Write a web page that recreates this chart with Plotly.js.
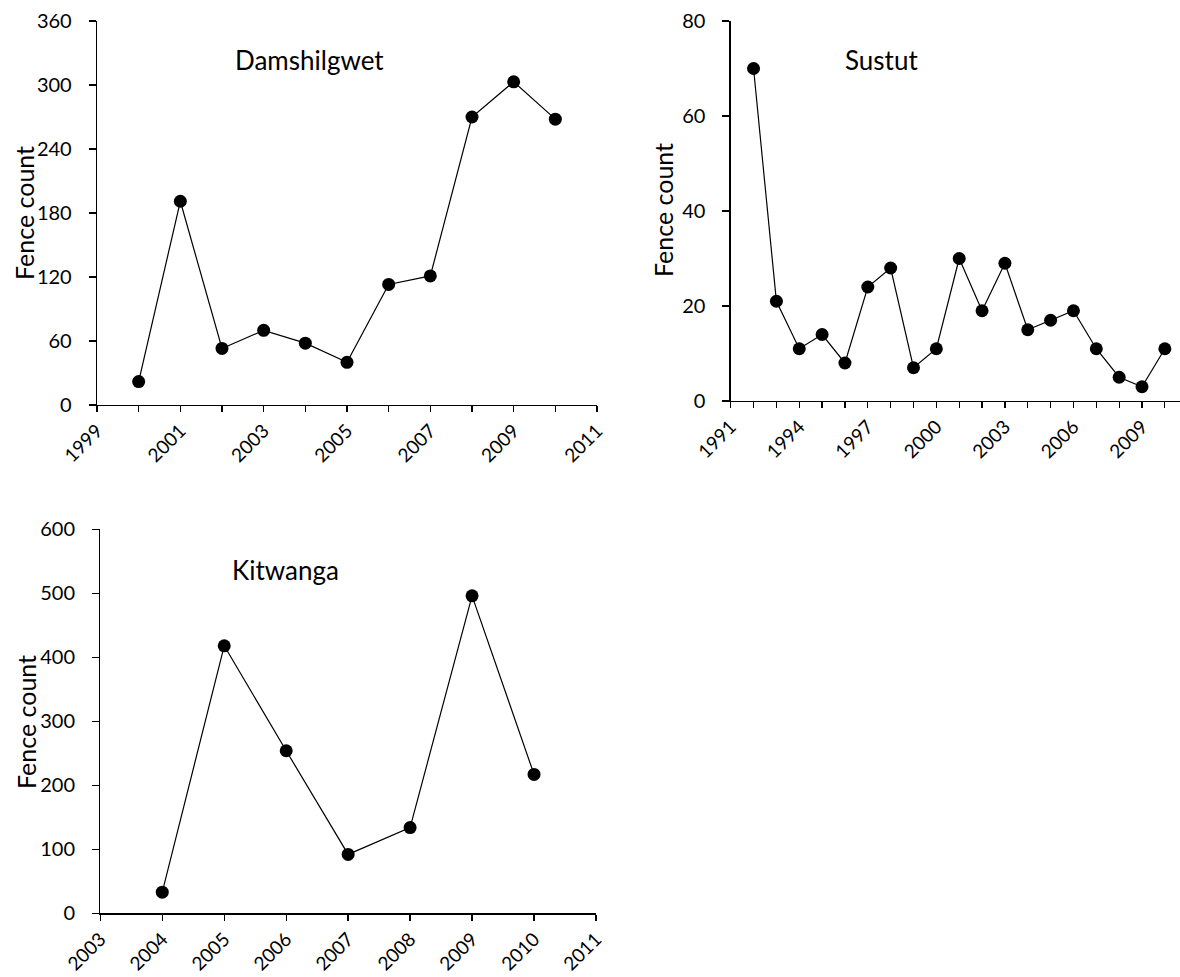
<!DOCTYPE html>
<html><head><meta charset="utf-8">
<script src="https://cdn.plot.ly/plotly-3.0.1.min.js"></script>
<style>html,body{margin:0;padding:0;background:#fff}</style>
</head><body>
<div id="chart" style="width:1180px;height:977px"></div>
<script>
// Damshilgwet
const damYears = [2000, 2001, 2002, 2003, 2004, 2005, 2006, 2007, 2008, 2009, 2010];
const damCounts = [22, 191, 53, 70, 58, 40, 113, 121, 270, 303, 268];
// Sustut
const susYears = [1992, 1993, 1994, 1995, 1996, 1997, 1998, 1999, 2000, 2001, 2002, 2003, 2004, 2005, 2006, 2007, 2008, 2009, 2010];
const susCounts = [70, 21, 11, 14, 8, 24, 28, 7, 11, 30, 19, 29, 15, 17, 19, 11, 5, 3, 11];
// Kitwanga
const kitYears = [2004, 2005, 2006, 2007, 2008, 2009, 2010];
const kitCounts = [33, 418, 254, 92, 134, 496, 217];

const panelNames = ["Damshilgwet", "Sustut", "Kitwanga"];
const yTitle = "Fence count";

const W = 1180, H = 977;
const FONT = "Lato, 'Open Sans', sans-serif";
const TICK = 20;

function trace(x, y, xa, ya) {
  return {
    x: x, y: y, xaxis: xa, yaxis: ya, type: "scatter", mode: "lines+markers",
    line: {color: "#000", width: 1.2},
    marker: {color: "#000", size: 13, symbol: "circle"},
    showlegend: false, hoverinfo: "x+y"
  };
}

function xax(domL, domR, range, dtick, minorDtick) {
  const a = {
    domain: [domL / W, domR / W], range: range, dtick: dtick, tick0: range[0],
    tickmode: "linear", tickangle: -45, ticks: "outside", ticklen: 6, tickwidth: 1.3,
    tickcolor: "#000", showline: true, linecolor: "#000", linewidth: 1.3,
    showgrid: false, zeroline: false, fixedrange: true, ticklabelstandoff: 0,
    tickfont: {family: FONT, size: 19, color: "#000"}
  };
  if (minorDtick) {
    a.minor = {dtick: minorDtick, tick0: range[0], ticks: "outside", ticklen: 6, tickwidth: 1.3, tickcolor: "#000", showgrid: false};
  }
  return a;
}
function yax(topPx, botPx, range, dtick, anchor) {
  return {
    domain: [(H - botPx) / H, (H - topPx) / H], range: range, dtick: dtick, tick0: 0,
    tickmode: "linear", ticks: "outside", ticklen: 7, tickwidth: 1.3, tickcolor: "#000",
    showline: true, linecolor: "#000", linewidth: 1.3, showgrid: false, zeroline: false,
    fixedrange: true, anchor: anchor, ticklabelstandoff: 13,
    tickfont: {family: FONT, size: TICK, color: "#000"}
  };
}

const susStart = 730.7, susPerYear = 22.85;
const susEnd = 1991 + (W - susStart) / susPerYear;

const data = [
  trace(damYears, damCounts, "x", "y"),
  trace(susYears, susCounts, "x2", "y2"),
  trace(kitYears, kitCounts, "x3", "y3")
];

const xa1 = xax(97, 597, [1999, 2011], 2, 1); xa1.anchor = "y";
const xa2 = xax(susStart, W, [1991, susEnd], 3, 1); xa2.anchor = "y2";
const xa3 = xax(100.3, 596, [2003, 2011], 1, null); xa3.anchor = "y3";

function ann(text, xpx, ypx, size, angle) {
  return {
    text: text, xref: "paper", yref: "paper", x: xpx / W, y: (H - ypx) / H,
    xanchor: "center", yanchor: "middle", showarrow: false,
    textangle: angle || 0, font: {family: FONT, size: size, color: "#000"}
  };
}

const layout = {
  width: W, height: H,
  margin: {l: 0, r: 0, t: 0, b: 0},
  paper_bgcolor: "#fff", plot_bgcolor: "#fff",
  xaxis: xa1, yaxis: yax(21, 405, [0, 360], 60, "x"),
  xaxis2: xa2, yaxis2: yax(21, 401, [0, 80], 20, "x2"),
  xaxis3: xa3, yaxis3: yax(529.3, 913.3, [0, 600], 100, "x3"),
  annotations: [
    ann(panelNames[0], 309, 60, 26),
    ann(panelNames[1], 881, 60, 26),
    ann(panelNames[2], 285, 570, 26),
    ann(yTitle, 24, 213, 25, -90),
    ann(yTitle, 663, 210, 25, -90),
    ann(yTitle, 26, 722, 25, -90)
  ]
};

Plotly.newPlot("chart", data, layout, {displayModeBar: false, staticPlot: true});
</script>
</body></html>
